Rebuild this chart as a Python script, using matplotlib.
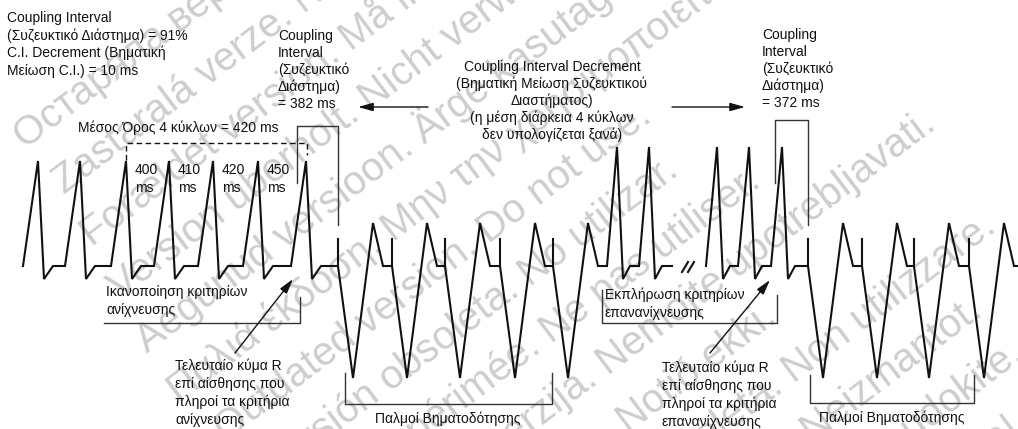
import numpy as np
import matplotlib.pyplot as plt

plt.rcParams['font.family'] = ['Liberation Sans', 'DejaVu Sans']

# beat positions along the strip (px)
sensed_left_peaks = [38, 80, 126, 169, 213, 258, 306]
paced_left_spikes = [338, 392, 445, 500, 553]
sensed_right_a = [617, 649]
sensed_right_b = [717, 749, 782]
paced_right_spikes = [808, 862, 914, 969]
interval_ms = [400, 410, 420, 450]
avg_ms = 420
ci_left_ms = 382
ci_right_ms = 372

watermark = [
    'Остаряла версия. Да не се използва.',
    'Zastaralá verze. Nepoužívat.',
    'Forældet version. Må ikke anvendes.',
    'Version überholt. Nicht verwenden.',
    'Aegunud versioon. Ärge kasutage.',
    'Παλιά έκδοση. Μην την χρησιμοποιείτε.',
    'Outdated version. Do not use.',
    'Versión obsoleta. No utilizar.',
    'Version périmée. Ne pas utiliser.',
    'Zastarjela verzija. Nemojte upotrebljavati.',
    'Úrelt útgáfa. Notið ekki.',
    'Versione obsoleta. Non utilizzare.',
    'Novecojusi versija. Neizmantot.',
    'Pasenusi versija. Nenaudokite.',
    'Elavult verzió. Ne használja!',
]
# where each watermark line starts, measured along the text direction
wm_shift = [-70, -66, -75, -85, -95, -100, -85, -70, -80, -67, 10, 60, 35, 50, 50]

BASE = 266
LOW = 279
PACE_LOW = 378
PACE_TOP = 223
SPIKE_TOP = 239
INK = '#111111'
GREY = '#333333'
FS = 10


def sensed(peaks, top, rise, down, up):
    xs, ys = [], []
    for p in peaks:
        xs += [p - rise, p, p + down, p + up]
        ys += [BASE, top, LOW, BASE]
    return xs, ys


def paced(spikes):
    xs, ys = [], []
    for s in spikes:
        xs += [s, s + 15, s + 35, s + 45]
        ys += [BASE, PACE_LOW, PACE_TOP, BASE]
    return xs, ys


def lines_at(ax, x, y0, step, lines, ha='left'):
    for i, s in enumerate(lines):
        ax.text(x, y0 + i * step, s, ha=ha, va='center', fontsize=FS, color=INK)


fig = plt.figure(figsize=(10.18, 4.29), dpi=100)
ax = fig.add_axes([0, 0, 1, 1])
ax.set_xlim(0, 1018)
ax.set_ylim(429, 0)
ax.axis('off')

# watermark, one line per language
deg = 37
c, s_ = np.cos(np.radians(deg)), np.sin(np.radians(deg))
for i, (txt, v) in enumerate(zip(watermark, wm_shift)):
    u = 135 + 59 * i
    wx = v * c + u * s_
    wy = -v * s_ + u * c
    ax.text(wx, wy, txt, rotation=deg, rotation_mode='anchor', ha='left',
            va='baseline', fontsize=29, color='#cdcdcd', zorder=0)

# first strip: sensed VT, paced burst, sensed again
x1, y1 = sensed(sensed_left_peaks, 161, 15, 6, 15)
x2, y2 = paced(paced_left_spikes)
x3, y3 = sensed(sensed_right_a, 147, 10, 6, 13)
ax.plot(x1 + x2 + x3 + [672], y1 + y2 + y3 + [BASE], color=INK, lw=1.5,
        solid_joinstyle='miter')

# second strip after the break
x4, y4 = sensed(sensed_right_b, 147, 11, 6, 13)
x5, y5 = paced(paced_right_spikes)
ax.plot(x4 + x5 + [1018], y4 + y5 + [BASE], color=INK, lw=1.5,
        solid_joinstyle='miter')

# pacing spikes
for sp in paced_left_spikes + paced_right_spikes:
    ax.plot([sp, sp], [BASE, SPIKE_TOP], color=INK, lw=1.5)

# break marks
for dx in [0, 6]:
    ax.plot([682 + dx, 688 + dx], [272, 262], color=INK, lw=1.5)

# average of 4 cycles (dashed)
xa, xb = sensed_left_peaks[2], sensed_left_peaks[6]
ax.plot([xa, xa, xb + 1, xb + 1], [160, 143, 143, 155], color=INK, lw=1.0,
        ls=(0, (4, 2.5)))
ax.text(78, 128, 'Μέσος Όρος 4 κύκλων = %d ms' % avg_ms, ha='left', va='center',
        fontsize=FS, color=INK)
for p, ms in zip(sensed_left_peaks[2:6], interval_ms):
    lines_at(ax, p + 9, 170, 18, [str(ms), 'ms'])

# coupling interval brackets
cl, cr = sensed_left_peaks[-1] - 9, paced_left_spikes[0]
ax.plot([cl, cl, cr, cr], [183, 126, 126, 225], color=GREY, lw=1.0)
cl2, cr2 = sensed_right_b[-1] - 7, paced_right_spikes[0]
ax.plot([cl2, cl2, cr2, cr2], [183, 120, 120, 225], color=GREY, lw=1.0)

# detection / redetection brackets
ax.plot([104, 300, 300], [323, 323, 297], color=GREY, lw=1.0)
ax.plot([602, 602, 777, 777], [290, 323, 323, 295], color=GREY, lw=1.0)

# pacing brackets
ax.plot([345, 345, 552, 552], [373, 404, 404, 373], color=GREY, lw=1.0)
ax.plot([810, 810, 974, 974], [375, 403, 403, 375], color=GREY, lw=1.0)

# arrows
arrow = dict(arrowstyle='-|>,head_length=0.9,head_width=0.25', color=INK, lw=1.0,
             shrinkA=0, shrinkB=0)
ax.annotate('', xy=(293, 279), xytext=(235, 353), arrowprops=arrow)
ax.annotate('', xy=(770, 280), xytext=(710, 353), arrowprops=arrow)
ax.annotate('', xy=(358, 107), xytext=(428, 107), arrowprops=arrow)
ax.annotate('', xy=(745, 107), xytext=(672, 107), arrowprops=arrow)

# texts
lines_at(ax, 7, 18, 17.5, ['Coupling Interval',
                           '(Συζευκτικό Διάστημα) = 91%',
                           'C.I. Decrement (Βηματική',
                           'Μείωση C.I.) = 10 ms'])
lines_at(ax, 278, 36, 17, ['Coupling', 'Interval', '(Συζευκτικό', 'Διάστημα)',
                           '= %d ms' % ci_left_ms])
lines_at(ax, 552, 67, 17, ['Coupling Interval Decrement',
                           '(Βηματική Μείωση Συζευκτικού',
                           'Διαστήματος)',
                           '(η μέση διάρκεια 4 κύκλων',
                           'δεν υπολογίζεται ξανά)'], ha='center')
lines_at(ax, 762, 35, 17, ['Coupling', 'Interval', '(Συζευκτικό', 'Διάστημα)',
                           '= %d ms' % ci_right_ms])
lines_at(ax, 106, 292, 18, ['Ικανοποίηση κριτηρίων', 'ανίχνευσης'])
lines_at(ax, 605, 295, 18, ['Εκπλήρωση κριτηρίων', 'επανανίχνευσης'])
lines_at(ax, 175, 366, 18, ['Τελευταίο κύμα R', 'επί αίσθησης που',
                            'πληροί τα κριτήρια', 'ανίχνευσης'])
lines_at(ax, 662, 368, 18, ['Τελευταίο κύμα R', 'επί αίσθησης που',
                            'πληροί τα κριτήρια', 'επανανίχνευσης'])
ax.text(448, 419, 'Παλμοί Βηματοδότησης', ha='center', va='center', fontsize=FS, color=INK)
ax.text(892, 418, 'Παλμοί Βηματοδότησης', ha='center', va='center', fontsize=FS, color=INK)

fig.savefig('out.png', dpi=100)
